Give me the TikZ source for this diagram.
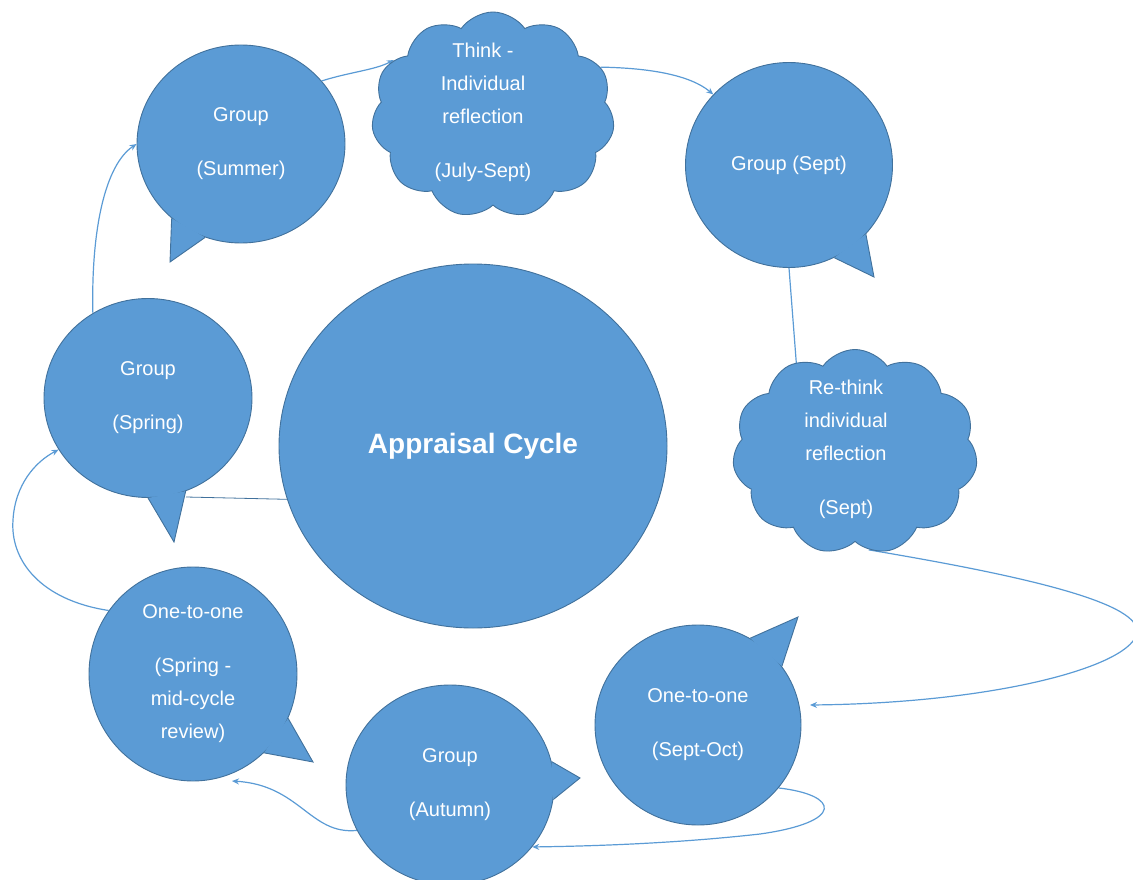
\documentclass[tikz,border=0pt]{standalone}
\usepackage{fontspec}
\setmainfont{Liberation Sans}
\usetikzlibrary{shapes.geometric,shapes.symbols,arrows.meta}
\definecolor{bfill}{HTML}{5B9BD5}
\definecolor{bline}{HTML}{41719C}
\definecolor{cline}{HTML}{5B9BD5}
\pgfdeclarelayer{bg}
\pgfsetlayers{bg,main}
\begin{document}
\begin{tikzpicture}[x=1pt,y=-1pt,
  bub/.style={ellipse, fill=bfill, draw=bline, line width=0.9pt, inner sep=0pt,
    text=white, font=\fontsize{20}{33}\selectfont, align=center},
  tailsty/.style={fill=bfill, draw=bline, line width=0.9pt},
  cloudsty/.style={cloud, cloud puffs=11, cloud puff arc=110, fill=bfill, draw=bline,
    line width=0.9pt, inner sep=0pt, minimum width=243pt, minimum height=206pt},
  ctext/.style={text=white, font=\fontsize{20}{33}\selectfont, align=center},
  conn/.style={draw=cline, line width=1.2pt, -{Stealth[length=7pt,width=6pt]}},
  link/.style={draw=bline, line width=0.8pt}
]
\useasboundingbox (0,0) rectangle (1133,880);
\clip (0,0) rectangle (1133,880);

% big circle
\node[bub, minimum width=388pt, minimum height=364pt,
  font=\fontsize{28}{34}\selectfont\bfseries] (circ) at (473,446) {Appraisal Cycle};

% Group (Summer)
\node[bub, minimum width=208pt, minimum height=198pt] (summer) at (241,144) {Group\\[21pt](Summer)};
\path[tailsty] (summer.227) -- (170,262) -- (summer.249);

% Think cloud
\node[cloudsty] (think) at (493,115) {};
\node[ctext] (thinkt) at (483,112) {Think -\\Individual\\reflection\\[21pt](July-Sept)};

% Group (Sept)
\node[bub, minimum width=207pt, minimum height=205pt] (sept) at (789,165) {Group (Sept)};
\path[tailsty] (sept.296) -- (874,277) -- (sept.318);

% Re-think cloud
\node[cloudsty, minimum width=245pt, minimum height=205pt] (rethink) at (855,452) {};
\node[ctext] (rethinkt) at (846,449) {Re-think\\individual\\reflection\\[21pt](Sept)};

% Group (Spring)
\node[bub, minimum width=208pt, minimum height=199pt] (spring) at (148,398) {Group\\[21pt](Spring)};
\path[tailsty] (spring.270) -- (174,542) -- (spring.292);

% One-to-one (Spring)
\node[bub, minimum width=208pt, minimum height=214pt] (oneS) at (193,674) {One-to-one\\[21pt](Spring -\\mid-cycle\\review)};
\path[tailsty] (oneS.312) -- (313,762) -- (oneS.335);

% Group (Autumn)
\node[bub, minimum width=208pt, minimum height=200pt] (autumn) at (450,785) {Group\\[21pt](Autumn)};
\path[tailsty] (autumn.13) -- (580,778) -- (autumn.352);

% One-to-one (Sept-Oct)
\node[bub, minimum width=206pt, minimum height=200pt] (oneO) at (698,725) {One-to-one\\[21pt](Sept-Oct)};
\path[tailsty] (oneO.59) -- (798,617) -- (oneO.35);

\coordinate (rtop) at (797,372);
\coordinate (oneOin) at (810,705);
\coordinate (oneSin) at (232,781);
\coordinate (springtail) at (186,497);

\begin{pgfonlayer}{bg}
\draw[conn] (spring.123) .. controls (91,230) and (105,165) .. (summer.west);
\draw[conn] (summer.38) .. controls (350,72) and (375,70) .. (think.151);
\draw[conn] (think.24) .. controls (650,68) and (690,75) .. (sept.137);
\draw[link, draw=cline, line width=1.2pt] (sept.south) -- (rtop);
\draw[conn] (rethink.278) .. controls (1000,572) and (1140,600) .. (1137,632)
   .. controls (1134,665) and (1000,703) .. (oneOin);
\draw[conn] (oneO.322) .. controls (840,795) and (845,822) .. (760,834)
   .. controls (680,843) and (600,846) .. (autumn.323);
\draw[conn] (autumn.206) .. controls (310,835) and (300,785) .. (oneSin);
\draw[conn] (oneS.143) .. controls (40,600) and (10,560) .. (13,520)
   .. controls (15,485) and (35,462) .. (spring.210);
\draw[link] (springtail) -- (circ.196);
\end{pgfonlayer}
\end{tikzpicture}
\end{document}
